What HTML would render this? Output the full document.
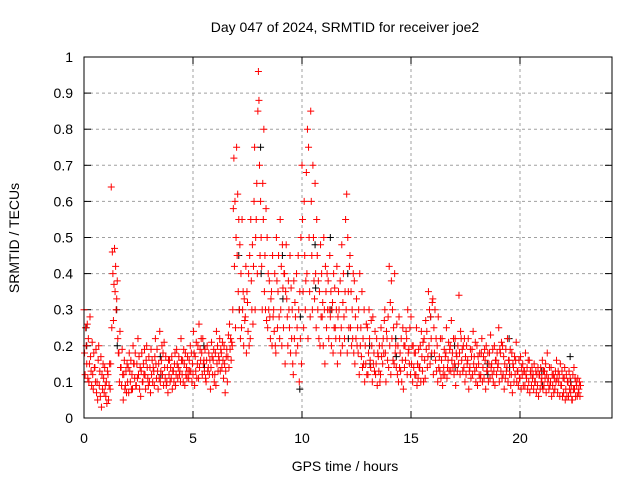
<!DOCTYPE html>
<html><head><meta charset="utf-8"><style>
body{margin:0;background:#fff;width:640px;height:480px;overflow:hidden}
text{font-family:"Liberation Sans",sans-serif;font-size:14px;fill:#000}
</style></head><body>
<svg id="chart" width="640" height="480" xmlns="http://www.w3.org/2000/svg">
<text x="345" y="32" text-anchor="middle">Day 047 of 2024, SRMTID for receiver joe2</text>
<text x="19" y="238" text-anchor="middle" transform="rotate(-90 19 238)">SRMTID / TECUs</text>
<text x="345" y="471" text-anchor="middle">GPS time / hours</text>
<g id="grid"></g><g id="ticks"></g><g id="black"></g><g id="red"></g>
<rect x="84" y="57" width="528" height="361" fill="none" stroke="#000" stroke-width="1"/>
</svg>
<script>
const xTicks=[0,5,10,15,20];
const yTicks=[0,0.1,0.2,0.3,0.4,0.5,0.6,0.7,0.8,0.9,1];
const yTickLabels=["0","0.1","0.2","0.3","0.4","0.5","0.6","0.7","0.8","0.9","1"];
const redRows=[
[0.0,.30,.18,.12,.25],[0.2,.22,.10,.15,.28],[0.4,.12,.08,.18,.14],[0.6,.10,.05,.16,.20],[0.8,.03,.12,.08,.15],
[1.0,.06,.10,.04,.13],[1.2,.08,.15,.64,.25],[1.4,.47,.35,.42,.30],[1.6,.18,.10,.24,.14],[1.8,.05,.12,.16,.08],
[2.0,.10,.14,.07,.18],[2.2,.12,.08,.20,.15],[2.4,.09,.15,.11,.22],[2.6,.06,.13,.18,.10],[2.8,.12,.08,.16,.20],
[3.0,.10,.14,.07,.19],[3.2,.13,.09,.17,.22],[3.4,.08,.15,.11,.24],[3.6,.12,.18,.09,.21],[3.8,.10,.14,.07,.16],
[4.0,.11,.17,.08,.13],[4.2,.09,.12,.19,.15],[4.4,.13,.10,.22,.16],[4.6,.15,.09,.18,.12],[4.8,.11,.16,.13,.20],
[5.0,.12,.24,.18,.09],[5.2,.15,.20,.11,.26],[5.4,.18,.12,.22,.15],[5.6,.10,.16,.20,.13],[5.8,.08,.14,.21,.17],
[6.0,.12,.18,.09,.24],[6.2,.16,.22,.13,.19],[6.4,.11,.20,.15,.07],[6.6,.17,.23,.14,.26],[6.8,.20,.30,.58,.72],
[7.0,.75,.45,.62,.35],[7.2,.40,.25,.55,.30],[7.4,.28,.42,.18,.35],[7.6,.45,.22,.55,.38],[7.8,.60,.75,.30,.50],
[8.0,.96,.88,.70,.45],[8.2,.65,.55,.80,.35],[8.4,.50,.25,.40,.30],[8.6,.35,.20,.45,.28],[8.8,.18,.50,.38,.25],
[9.0,.55,.30,.42,.20],[9.2,.40,.15,.35,.48],[9.4,.30,.25,.45,.18],[9.6,.12,.38,.22,.32],[9.8,.20,.45,.30,.10],
[10.0,.70,.55,.35,.25],[10.2,.68,.40,.80,.22],[10.4,.85,.60,.45,.30],[10.6,.65,.40,.25,.55],[10.8,.35,.20,.48,.28],
[11.0,.50,.30,.15,.42],[11.2,.38,.22,.30,.45],[11.4,.32,.18,.40,.25],[11.6,.42,.15,.28,.35],[11.8,.25,.48,.20,.32],
[12.0,.55,.30,.62,.18],[12.2,.45,.25,.35,.20],[12.4,.38,.15,.28,.22],[12.6,.30,.12,.40,.20],[12.8,.22,.15,.30,.10],
[13.0,.25,.12,.18,.30],[13.2,.20,.10,.28,.15],[13.4,.15,.22,.09,.18],[13.6,.12,.25,.17,.20],[13.8,.30,.18,.10,.24],
[14.0,.42,.20,.32,.12],[14.2,.25,.15,.40,.18],[14.4,.20,.10,.28,.14],[14.6,.16,.25,.08,.20],[14.8,.22,.12,.30,.18],
[15.0,.28,.15,.20,.10],[15.2,.18,.12,.25,.09],[15.4,.14,.20,.10,.24],[15.6,.22,.16,.11,.27],[15.8,.35,.20,.30,.15],
[16.0,.33,.12,.25,.18],[16.2,.20,.10,.28,.14],[16.4,.16,.22,.09,.12],[16.6,.18,.25,.11,.14],[16.8,.20,.13,.27,.16],
[17.0,.15,.22,.09,.18],[17.2,.34,.18,.12,.24],[17.4,.20,.14,.22,.10],[17.6,.16,.22,.08,.13],[17.8,.19,.12,.24,.15],
[18.0,.14,.20,.09,.17],[18.2,.12,.18,.22,.10],[18.4,.16,.08,.20,.13],[18.6,.18,.11,.23,.14],[18.8,.13,.20,.09,.16],
[19.0,.15,.25,.10,.19],[19.2,.20,.12,.17,.08],[19.4,.14,.22,.10,.16],[19.6,.12,.18,.07,.15],[19.8,.16,.21,.10,.13],
[20.0,.11,.17,.08,.14],[20.2,.13,.09,.18,.12],[20.4,.10,.16,.07,.13],[20.6,.12,.08,.15,.10],[20.8,.09,.14,.06,.12],
[21.0,.11,.16,.08,.13],[21.2,.07,.12,.18,.10],[21.4,.10,.14,.06,.12],[21.6,.08,.13,.10,.16],[21.8,.12,.06,.15,.09],
[22.0,.07,.11,.14,.05],[22.2,.10,.06,.13,.08],[22.4,.05,.12,.08,.14],[22.6,.09,.06,.11,.07]
];
const redRows2=[
[0.1,.20,.15,.26,.11],[0.3,.17,.13,.09,.21],[0.5,.14,.10,.19,.07],[0.7,.09,.13,.06,.17],[0.9,.11,.07,.14,.09],
[1.1,.12,.05,.09,.15],[1.3,.46,.40,.27,.37],[1.5,.33,.38,.22,.18],[1.7,.14,.09,.19,.12],[1.9,.09,.13,.07,.15],
[2.1,.13,.10,.16,.08],[2.3,.15,.11,.18,.09],[2.5,.12,.17,.08,.14],[2.7,.10,.15,.12,.19],[2.9,.14,.11,.09,.17],
[3.1,.12,.16,.10,.14],[3.3,.15,.11,.19,.13],[3.5,.10,.13,.16,.20],[3.7,.14,.11,.17,.09],[3.9,.12,.16,.10,.14],
[4.1,.13,.10,.15,.18],[4.3,.11,.14,.17,.12],[4.5,.12,.16,.10,.19],[4.7,.14,.11,.17,.13],[4.9,.13,.18,.10,.15],
[5.1,.17,.13,.21,.11],[5.3,.14,.19,.16,.22],[5.5,.16,.13,.19,.11],[5.7,.14,.18,.12,.16],[5.9,.12,.16,.19,.10],
[6.1,.15,.20,.13,.17],[6.3,.18,.14,.21,.16],[6.5,.13,.17,.19,.10],[6.7,.19,.22,.16,.21],[6.9,.42,.60,.25,.50],
[7.1,.55,.30,.48,.22],[7.3,.35,.20,.33,.27],[7.5,.32,.24,.40,.20],[7.7,.30,.48,.26,.42],[7.9,.55,.65,.40,.85],
[8.1,.60,.50,.42,.30],[8.3,.45,.30,.58,.27],[8.5,.38,.28,.22,.33],[8.7,.30,.24,.40,.20],[8.9,.35,.45,.28,.22],
[9.1,.48,.36,.25,.40],[9.3,.33,.28,.20,.38],[9.5,.36,.22,.30,.15],[9.7,.28,.18,.40,.25],[9.9,.35,.22,.50,.15],
[10.1,.60,.45,.30,.38],[10.3,.75,.50,.35,.28],[10.5,.70,.50,.38,.33],[10.7,.45,.30,.38,.22],[10.9,.40,.28,.32,.20],
[11.1,.35,.25,.40,.30],[11.3,.28,.35,.20,.30],[11.5,.36,.25,.22,.30],[11.7,.30,.22,.38,.18],[11.9,.40,.28,.22,.35],
[12.1,.50,.35,.25,.42],[12.3,.30,.22,.40,.18],[12.5,.33,.20,.25,.18],[12.7,.25,.17,.35,.14],[12.9,.20,.15,.26,.12],
[13.1,.22,.16,.14,.27],[13.3,.18,.13,.24,.12],[13.5,.17,.13,.20,.10],[13.7,.15,.22,.18,.27],[13.9,.22,.16,.28,.14],
[14.1,.38,.22,.30,.16],[14.3,.20,.14,.26,.12],[14.5,.18,.13,.22,.10],[14.7,.14,.20,.16,.24],[14.9,.19,.15,.25,.12],
[15.1,.20,.14,.18,.12],[15.3,.15,.11,.19,.14],[15.5,.17,.13,.21,.10],[15.7,.19,.24,.14,.17],[15.9,.28,.22,.18,.32],
[16.1,.30,.16,.22,.13],[16.3,.17,.13,.22,.11],[16.5,.14,.19,.12,.17],[16.7,.16,.21,.13,.19],[16.9,.18,.14,.22,.12],
[17.1,.17,.13,.20,.15],[17.3,.22,.16,.19,.13],[17.5,.17,.12,.20,.15],[17.7,.14,.19,.11,.17],[17.9,.17,.13,.21,.10],
[18.1,.15,.12,.18,.11],[18.3,.14,.17,.11,.19],[18.5,.13,.18,.10,.15],[18.7,.15,.12,.19,.10],[18.9,.16,.12,.18,.14],
[19.1,.18,.13,.21,.11],[19.3,.15,.11,.19,.13],[19.5,.16,.12,.19,.09],[19.7,.14,.10,.17,.12],[19.9,.13,.09,.16,.11],
[20.1,.12,.15,.09,.13],[20.3,.11,.14,.08,.16],[20.5,.12,.09,.14,.11],[20.7,.10,.13,.07,.12],[20.9,.12,.08,.14,.10],
[21.1,.09,.13,.11,.15],[21.3,.11,.08,.14,.09],[21.5,.09,.12,.07,.11],[21.7,.11,.07,.13,.10],[21.9,.09,.13,.06,.11],
[22.1,.08,.12,.06,.10],[22.3,.11,.07,.09,.05],[22.5,.08,.11,.06,.10],[22.7,.08,.10,.06,.09]
];
const blackRows=[
[0.1,.25,.20],[1.5,.30,.20],[3.5,.17,.12],[5.5,.20,.14],[7.1,.45,.30],[8.1,.75,.40],[9.1,.45,.33],
[9.9,.08,.28],[10.6,.48,.36],[11.3,.50,.30],[12.1,.40,.22],[13.1,.20,.15],[14.3,.22,.17],[15.9,.28,.17],
[17.0,.20,.14],[18.5,.15,.12],[19.5,.22,.14],[21.0,.13,.09],[22.3,.17,.10]
];
const X0=84,X1=612,XMAX=24.22,Y0=418,Y1=57;
const xs=t=>X0+(t/XMAX)*(X1-X0);
const ys=v=>Y0-v*(Y0-Y1);
const NS="http://www.w3.org/2000/svg";
function mk(tag,attrs,parent){const e=document.createElementNS(NS,tag);for(const k in attrs)e.setAttribute(k,attrs[k]);parent.appendChild(e);return e;}
const grid=document.getElementById('grid'),ticks=document.getElementById('ticks');
xTicks.forEach((t,i)=>{const x=xs(t);
 if(i>0){const g=mk('line',{x1:x,x2:x,y1:Y1,y2:Y0,stroke:'#a0a0a0','stroke-dasharray':'3,3'},grid);
 }
 mk('line',{x1:x,x2:x,y1:Y0,y2:Y0-7,stroke:'#000'},ticks);mk('line',{x1:x,x2:x,y1:Y1,y2:Y1+7,stroke:'#000'},ticks);
 const l=mk('text',{x:x,y:443,'text-anchor':'middle'},ticks);l.textContent=String(t);
 });
yTicks.forEach((v,i)=>{const y=ys(v);
 if(i>0&&i<yTicks.length-1){const g=mk('line',{x1:X0,x2:X1,y1:y,y2:y,stroke:'#a0a0a0','stroke-dasharray':'3,3'},grid);
 }
 mk('line',{x1:X0,x2:X0+7,y1:y,y2:y,stroke:'#000'},ticks);mk('line',{x1:X1,x2:X1-7,y1:y,y2:y,stroke:'#000'},ticks);
 const l=mk('text',{x:73,y:y+5,'text-anchor':'end'},ticks);l.textContent=yTickLabels[i];
 });
function plot(rows,color,gid,name){const g=document.getElementById(gid);let d='';
 rows.forEach(r=>{for(let j=1;j<r.length;j++){const x=xs(r[0]+(j-1)*0.025),y=ys(r[j]);
  d+=`M${x-3.5},${y}h7M${x},${y-3.5}v7`;}});
 const p=mk('path',{d:d,stroke:color,'stroke-width':1,fill:'none'},g);
 }
plot(blackRows,'#000','black','black-series-points');
plot(redRows,'#ff0000','red','red-series-points');
plot(redRows2,'#ff0000','red','red-series-points-2');
</script>
</body></html>
